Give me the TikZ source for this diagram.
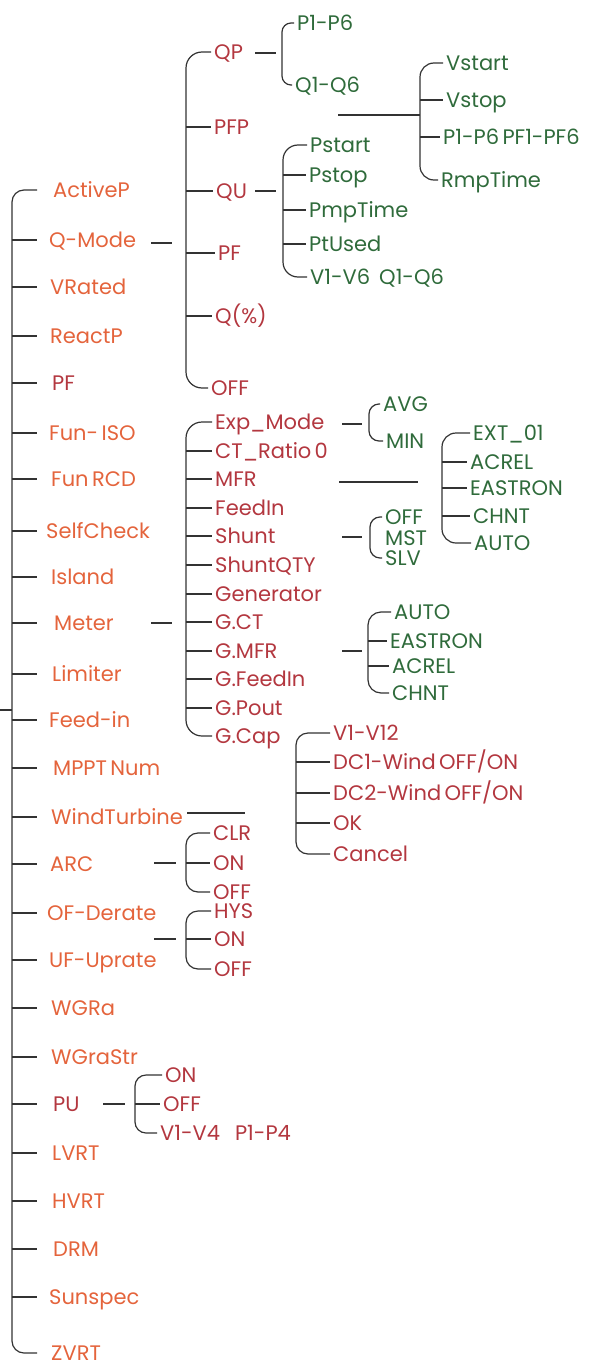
\documentclass[tikz,border=0pt]{standalone}
\usepackage{fontspec}
\setmainfont{Poppins}[WordSpace=0.6]
\usetikzlibrary{calc}
\definecolor{menuorange}{HTML}{E4643C}
\definecolor{menured}{HTML}{B3373F}
\definecolor{menugreen}{HTML}{2F6B3B}
\definecolor{linegray}{HTML}{333333}

\begin{document}
\begin{tikzpicture}[x=1pt,y=-1pt,
  lbl/.style={anchor=west,inner xsep=3pt,inner ysep=0pt,xshift=-3pt,
    text height=15pt,text depth=0pt,font=\fontsize{21}{25}\selectfont},
  top/.style={lbl,text=menuorange},
  sub/.style={lbl,text=menured},
  opt/.style={lbl,text=menugreen},
  link/.style={draw=linegray,line width=1.2pt},
  brk/.style={link,rounded corners=12pt}]
  \useasboundingbox (0,0) rectangle (594,1367);

  % main menu
  \foreach \n/\x/\y/\t/\s in {activep/53/190/ActiveP/top, qmode/49/240/Q-Mode/top,
      vrated/50/287/VRated/top, reactp/50/336/ReactP/top, pf/52/383/PF/sub,
      funiso/49/433/Fun- ISO/top, funrcd/51/479/Fun RCD/top, selfcheck/46/531/SelfCheck/top,
      island/51/577/Island/top, meter/54/623/Meter/top, limiter/52/674/Limiter/top,
      feedin/49/720/Feed-in/top, mppt/53/768/MPPT Num/top, wind/51/817/WindTurbine/top,
      arc/50/864/ARC/top, ofderate/47/913/OF-Derate/top, ufuprate/49/960/UF-Uprate/top,
      wgra/51/1008/WGRa/top, wgrastr/51/1057/WGraStr/top, pu/53/1104/PU/sub,
      lvrt/52/1153/LVRT/top, hvrt/52/1201/HVRT/top, drm/53/1249/DRM/top,
      sunspec/49/1297/Sunspec/top, zvrt/51/1353/ZVRT/top}
    \node[\s] (\n) at (\x,\y) {\t};

  % Q-Mode
  \foreach \n/\x/\y/\t in {qp/214/52/QP, pfp/214/127/PFP, qu/216/191/QU,
      pfmode/218/253/PF, qpct/215/316/Q(\%), qoff/211/388/OFF}
    \node[sub] (\n) at (\x,\y) {\t};
  \foreach \n/\x/\y/\t in {qpp/297/23/P1-P6, qpq/295/85/Q1-Q6,
      pstart/310/145/Pstart, pstop/309/175/Pstop, pmp/309/210/PmpTime,
      ptused/309/244/PtUsed, quv/310/277/V1-V6\hspace{9pt}Q1-Q6,
      vstart/446/63/Vstart, vstop/446/100/Vstop, pfpp/443/137/P1-P6 PF1-PF6,
      rmp/441/180/RmpTime}
    \node[opt] (\n) at (\x,\y) {\t};

  % Meter
  \foreach \n/\x/\y/\t in {expmode/215/422/Exp\_Mode, ctratio/215/451/CT\_Ratio 0,
      mfr/215/479/MFR, mfeedin/215/508/FeedIn, shunt/215/536/Shunt,
      shuntqty/215/565/ShuntQTY, generator/215/594/Generator, gct/215/622/G.CT,
      gmfr/215/651/G.MFR, gfeedin/215/679/G.FeedIn, gpout/215/708/G.Pout,
      gcap/215/736/G.Cap}
    \node[sub] (\n) at (\x,\y) {\t};
  \foreach \n/\x/\y/\t in {avg/383/404/AVG, min/386/441/MIN,
      ext/473/433/EXT\_01, acrel/470/462/ACREL, eastron/470/488/EASTRON,
      chnt/473/516/CHNT, auto/474/543/AUTO,
      soff/385/517/OFF, mst/385/538/MST, slv/385/558/SLV,
      gauto/394/612/AUTO, geastron/390/641/EASTRON, gacrel/392/666/ACREL,
      gchnt/392/693/CHNT}
    \node[opt] (\n) at (\x,\y) {\t};

  % WindTurbine, ARC, OF/UF, PU
  \foreach \n/\x/\y/\t in {wv/333/733/V1-V12, wdc1/333/762/{DC1-Wind OFF/ON},
      wdc2/333/793/{DC2-Wind OFF/ON}, wok/333/823/OK, wcancel/333/854/Cancel,
      clr/213/833/CLR, arcon/213/863/ON, arcoff/213/892/OFF,
      hys/214/911/HYS, fon/214/939/ON, foff/214/969/OFF,
      puon/165/1075/ON, puoff/163/1104/OFF, puv/160/1133/V1-V4\hspace{15pt}P1-P4}
    \node[sub] (\n) at (\x,\y) {\t};

  % spines
  \coordinate (trunk) at (12,0);
  \coordinate (trunktip) at (37,0);
  \coordinate (qmspine) at (186,0);
  \coordinate (qpspine) at (282,0);
  \coordinate (quspine) at (283,0);
  \coordinate (pfpspine) at (420,0);
  \coordinate (mtspine) at (186,0);
  \coordinate (expspine) at (369,0);
  \coordinate (mfrspine) at (442,0);
  \coordinate (shspine) at (370,0);
  \coordinate (gmspine) at (368,0);
  \coordinate (wtspine) at (296,0);
  \coordinate (arcspine) at (186,0);
  \coordinate (puspine) at (135,0);

  % trunk
  \draw[brk] (activep.west -| trunktip) -| (zvrt.west -| trunk) -- (zvrt.west -| trunktip);
  \foreach \n in {qmode,vrated,reactp,pf,funiso,funrcd,selfcheck,island,meter,limiter,
      feedin,mppt,wind,arc,ofderate,ufuprate,wgra,wgrastr,pu,lvrt,hvrt,drm,sunspec}
    \draw[link] (\n.west -| trunk) -- (\n.west -| trunktip);
  \draw[link] (0,710) coordinate (root) -- (root -| trunk);

  % brackets
  \draw[brk,rounded corners=16pt] (qp.west) -| (qoff.west -| qmspine) -- (qoff.west);
  \foreach \n in {pfp,qu,pfmode,qpct} \draw[link] (\n.west -| qmspine) -- (\n.west);
  \draw[brk,rounded corners=9pt] (qpp.west) -| (qpq.west -| qpspine) -- (qpq.west);
  \draw[brk,rounded corners=15pt] (pstart.west) -| (quv.west -| quspine) -- (quv.west);
  \foreach \n in {pstop,pmp,ptused} \draw[link] (\n.west -| quspine) -- (\n.west);
  \draw[brk,rounded corners=14pt] (vstart.west) -| (rmp.west -| pfpspine) -- (rmp.west);
  \foreach \n in {vstop,pfpp} \draw[link] (\n.west -| pfpspine) -- (\n.west);

  \draw[brk,rounded corners=16pt] (expmode.west) -| (gcap.west -| mtspine) -- (gcap.west);
  \foreach \n in {ctratio,mfr,mfeedin,shunt,shuntqty,generator,gct,gmfr,gfeedin,gpout}
    \draw[link] (\n.west -| mtspine) -- (\n.west);
  \draw[brk,rounded corners=10pt] (avg.west) -| (min.west -| expspine) -- (min.west);
  \draw[brk,rounded corners=14pt] (ext.west) -| (auto.west -| mfrspine) -- (auto.west);
  \foreach \n in {acrel,eastron,chnt} \draw[link] (\n.west -| mfrspine) -- (\n.west);
  \draw[brk,rounded corners=10pt] (soff.west) -| (slv.west -| shspine) -- (slv.west);
  \draw[brk,rounded corners=13pt] (gauto.west) -| (gchnt.west -| gmspine) -- (gchnt.west);
  \foreach \n in {geastron,gacrel} \draw[link] (\n.west -| gmspine) -- (\n.west);

  \draw[brk] (wv.west) -| (wcancel.west -| wtspine) -- (wcancel.west);
  \foreach \n in {wdc1,wdc2,wok} \draw[link] (\n.west -| wtspine) -- (\n.west);
  \draw[brk] (clr.west) -| (arcoff.west -| arcspine) -- (arcoff.west);
  \draw[link] (arcon.west -| arcspine) -- (arcon.west);
  \draw[brk] (hys.west) -| (foff.west -| arcspine) -- (foff.west);
  \draw[link] (fon.west -| arcspine) -- (fon.west);
  \draw[brk,rounded corners=11pt] (puon.west) -| (puv.west -| puspine) -- (puv.west);
  \draw[link] (puoff.west -| puspine) -- (puoff.west);

  % dashes towards the sub menus
  \foreach \n/\x/\y/\l in {qmode/151/243/21, qp/255/53/21, qu/255/191/21, pfp/338/115/82,
      meter/151/623/21, exp/342/424/20, mfr/339/482/79, shunt/342/537/20,
      gmfr/342/651/20, wind/187/813/58, arc/154/863/22, fuf/154/939/22, pu/103/1104/22}
    \draw[link] (\x,\y) coordinate (\n dash) -- ++(\l,0);
\end{tikzpicture}
\end{document}
